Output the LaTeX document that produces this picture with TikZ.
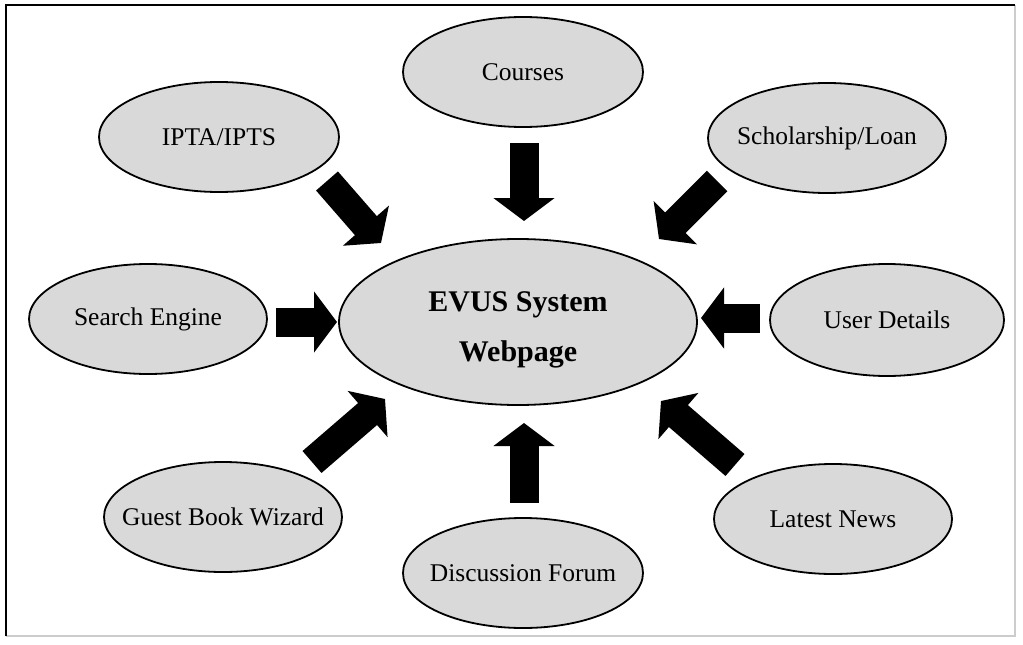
\documentclass[tikz,border=0pt]{standalone}
\usepackage{fontspec}
\setmainfont{Liberation Serif}
\usetikzlibrary{shapes.geometric,arrows.meta}
\begin{document}
\begin{tikzpicture}[x=1pt,y=-1pt,
  bub/.style={ellipse, draw=black, line width=1.8pt, fill=black!15, inner sep=0pt},
  lbl/.style={font=\fontsize{25.5}{30}\selectfont, inner sep=0pt},
  blk/.style={draw=black, line width=29pt, -{Triangle[length=23pt,width=60pt]}},
  frameA/.style={line width=2pt, black},
  frameB/.style={line width=1.5pt, black!20}]
\useasboundingbox (0,0) rectangle (1023,645);
\draw[frameB] (1015,5) -- (1015,636) -- (6,636);
\draw[frameA] (6,636) -- (6,5) -- (1015,5);

\node[bub, minimum width=358pt, minimum height=166pt,
  label={[lbl, align=center, yshift=-8pt, font=\fontsize{30}{50}\selectfont\bfseries]center:EVUS System\\Webpage}] (hub) at (518,322) {};
\node[bub, minimum width=240pt, minimum height=110pt, label={[lbl]center:Courses}] (courses) at (523,72) {};
\node[bub, minimum width=240pt, minimum height=110pt, label={[lbl]center:IPTA/IPTS}] (ipta) at (219,137) {};
\node[bub, minimum width=238pt, minimum height=110pt, label={[lbl]center:Scholarship/Loan}] (schol) at (827,138) {};
\node[bub, minimum width=238pt, minimum height=110pt, label={[lbl]center:Search Engine}] (search) at (148,319) {};
\node[bub, minimum width=234pt, minimum height=112pt, label={[lbl]center:User Details}] (user) at (887,320) {};
\node[bub, minimum width=238pt, minimum height=110pt, label={[lbl]center:Guest Book Wizard}] (guest) at (223,517) {};
\node[bub, minimum width=240pt, minimum height=110pt, label={[lbl]center:Discussion Forum}] (forum) at (523,573) {};
\node[bub, minimum width=238pt, minimum height=110pt, label={[lbl]center:Latest News}] (news) at (833,519) {};

% arrow end points
\coordinate (c1) at (524,143); \coordinate (c2) at (524,221);
\coordinate (f1) at (524,503); \coordinate (f2) at (524,423);
\coordinate (s1) at (276,322); \coordinate (s2) at (337,322);
\coordinate (u1) at (760,318); \coordinate (u2) at (701,318);
\coordinate (i1) at (327,181); \coordinate (i2) at (381,243);
\coordinate (h1) at (717,181); \coordinate (h2) at (659,239);
\coordinate (g1) at (312,462); \coordinate (g2) at (385,399);
\coordinate (n1) at (735,465); \coordinate (n2) at (661,401);

\draw[blk] (c1) -- (c2);
\draw[blk] (f1) -- (f2);
\draw[blk] (s1) -- (s2);
\draw[blk] (u1) -- (u2);
\draw[blk] (i1) -- (i2);
\draw[blk] (h1) -- (h2);
\draw[blk] (g1) -- (g2);
\draw[blk] (n1) -- (n2);
\end{tikzpicture}
\end{document}
